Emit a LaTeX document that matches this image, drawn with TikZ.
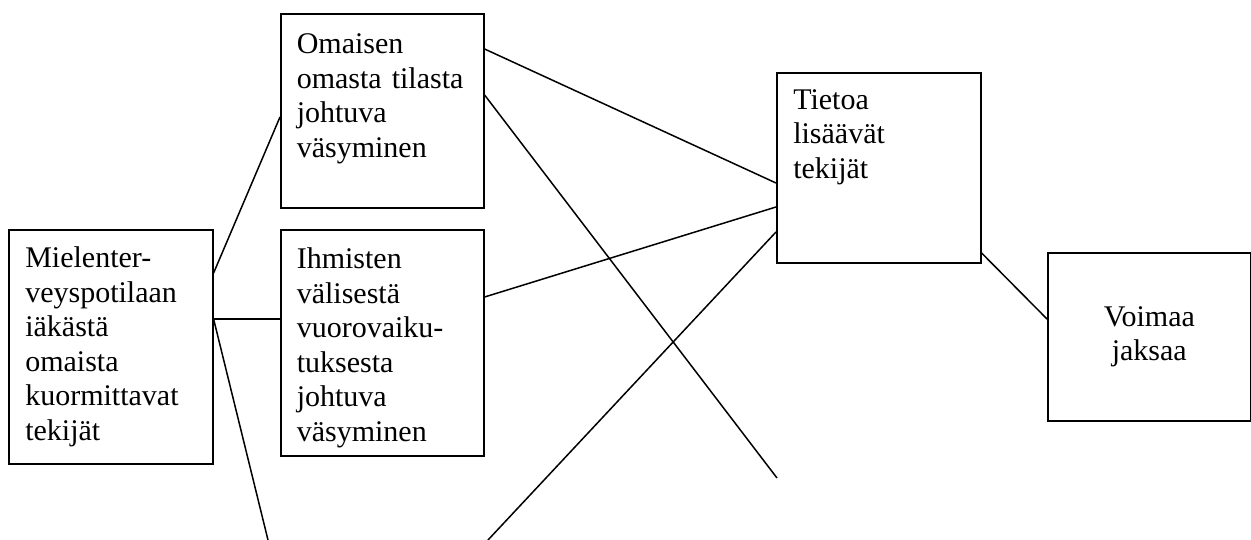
\documentclass[tikz,border=0pt]{standalone}
\usepackage{fontspec}
\setmainfont{Liberation Serif}
\begin{document}
\begin{tikzpicture}[x=1pt, y=-1pt,
		textBox/.style={rectangle, draw, line width=1.6pt, anchor=north west, align=left, text width=171pt, inner xsep=16pt, inner ysep=0pt, font=\fontsize{30pt}{34.5pt}\selectfont},
		connector/.style={line width=1.5pt}]
		
		\useasboundingbox (0,0) rectangle (1251,540);
		
		%Left box
		\node (kuormittavatBox) at (8,229) [textBox, minimum width=204pt, minimum 
		height=234pt]{Mielenter-\\veyspotilaan\\iäkästä\\omaista\\kuormittavat\\tekijät};
		
		%Middle boxes
		\node (omaTilaBox) at (280,13) [textBox, minimum width=203pt, minimum 
		height=194pt]{Omaisen\\omasta tilasta\\johtuva\\väsyminen\rule[-30.5pt]{0pt}{0pt}};
		\node (vuorovaikutusBox) at (280,229) [textBox, minimum width=203pt, minimum 
		height=226pt]{\rule{0pt}{30.5pt}Ihmisten\\välisestä\\vuorovaiku-\\tuksesta\\johtuva\\väsyminen};
		
		%Right boxes
		\node (tietoaBox) at (776,72) [textBox, minimum width=204pt, minimum 
		height=190pt]{Tietoa\\lisäävät\\tekijät\rule[-67.5pt]{0pt}{0pt}};
		\node (voimaaBox) at (1047,252) [textBox, align=center, minimum width=203pt, minimum 
		height=168pt]{Voimaa\\jaksaa};
		
		%Loose ends
		\coordinate (looseEnd1) at (268,540);
		\coordinate (looseEnd2) at (777,478);
		\coordinate (looseEnd3) at (488,540);
		
		%Lines
		\draw[connector] ([yshift=-44pt]kuormittavatBox.north east) -- ([yshift=-104pt]omaTilaBox.north west);
		\draw[connector] ([yshift=-90pt]kuormittavatBox.north east) -- ([yshift=-90pt]vuorovaikutusBox.north west);
		\draw[connector] ([yshift=-90pt]kuormittavatBox.north east) -- (looseEnd1);
		\draw[connector] ([yshift=-36pt]omaTilaBox.north east) -- ([yshift=-111pt]tietoaBox.north west);
		\draw[connector] ([yshift=-82pt]omaTilaBox.north east) -- (looseEnd2);
		\draw[connector] ([yshift=-68pt]vuorovaikutusBox.north east) -- ([yshift=-135pt]tietoaBox.north west);
		\draw[connector] (looseEnd3) -- ([yshift=-160pt]tietoaBox.north west);
		\draw[connector] ([yshift=-181pt]tietoaBox.north east) -- ([yshift=-67pt]voimaaBox.north west);
		
\end{tikzpicture}
\end{document}
